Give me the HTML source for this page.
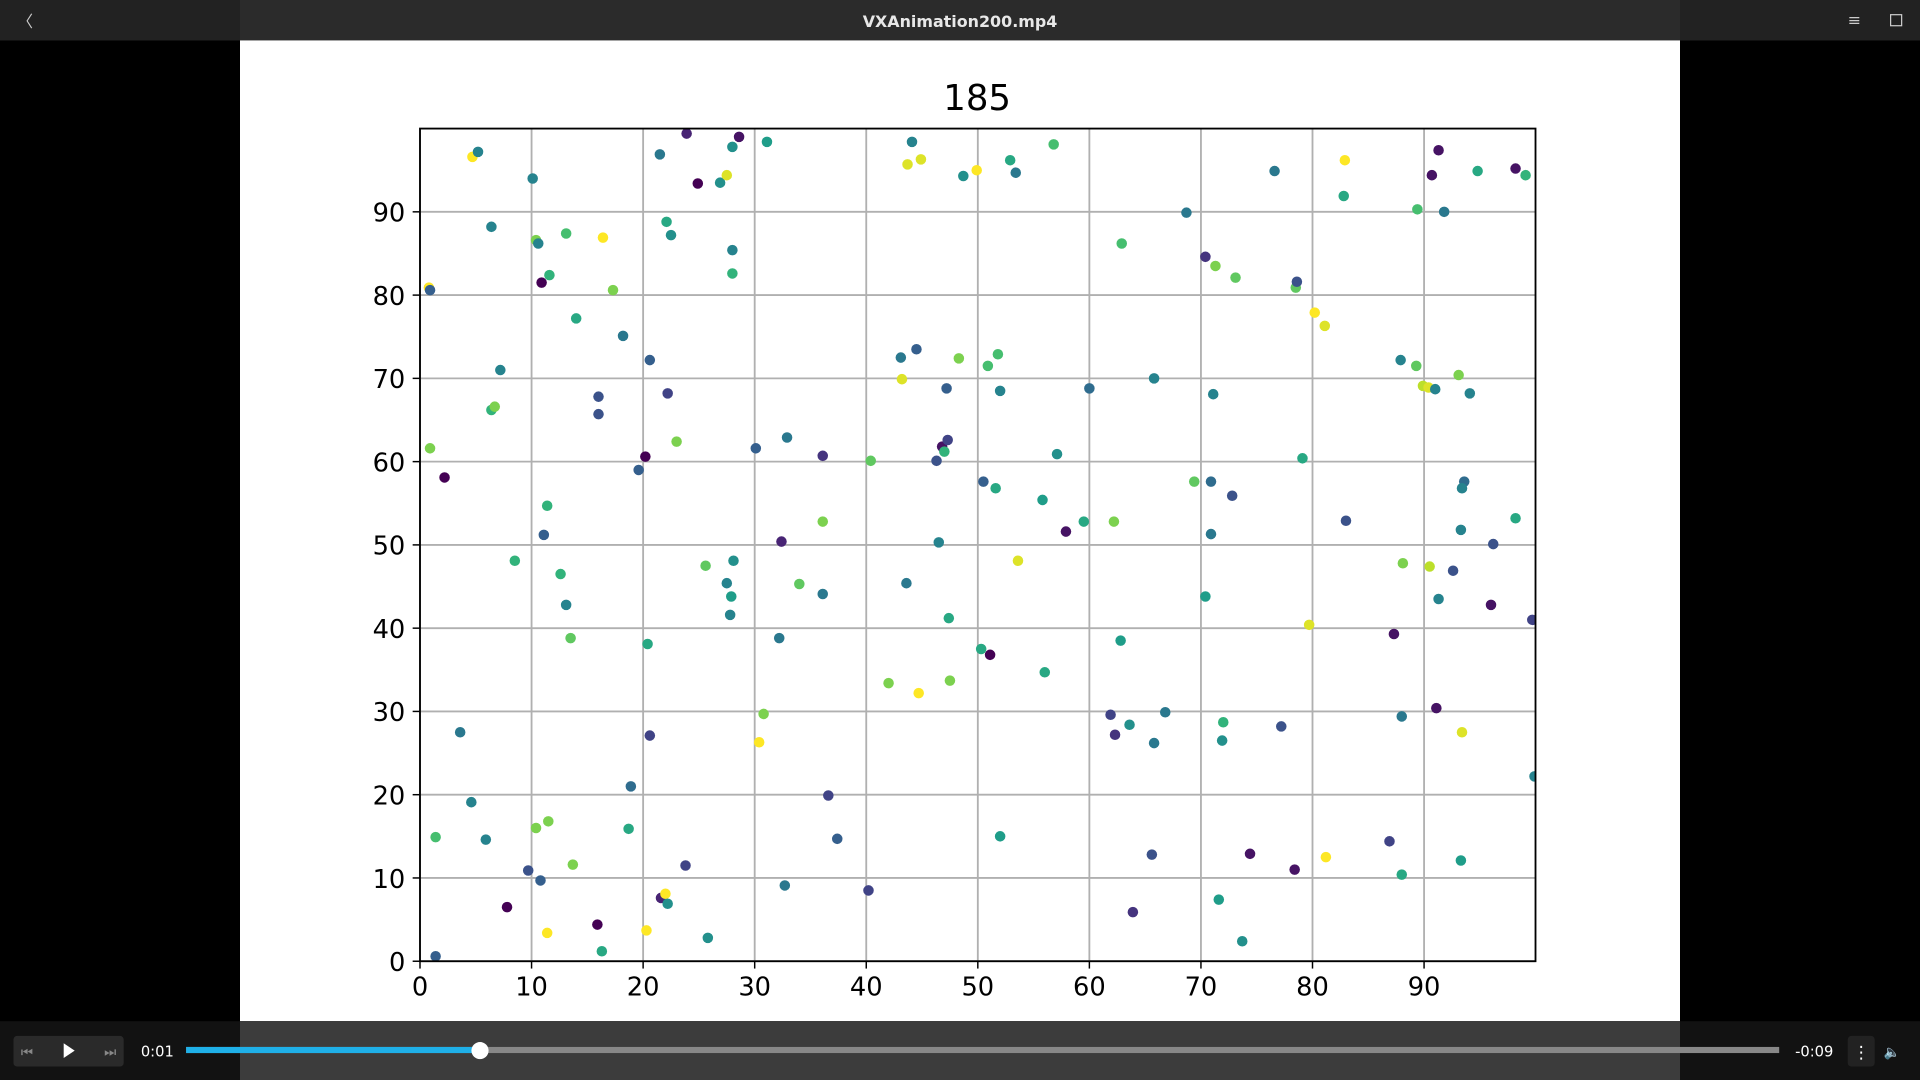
<!DOCTYPE html>
<html><head><meta charset="utf-8"><style>
html,body{margin:0;padding:0;background:#000;overflow:hidden}
svg{display:block}
text{font-family:"DejaVu Sans","Liberation Sans",sans-serif}
</style></head><body>
<svg id="svg" width="1920" height="1080" viewBox="0 0 1568 882" xmlns="http://www.w3.org/2000/svg">
<rect x="0" y="0" width="1568" height="882" fill="#000"/>
<g>
<rect x="0" y="0" width="1568" height="33" fill="#2b2b2b"/>
<rect x="0" y="0" width="196" height="33" fill="#222"/>
<rect x="1372" y="0" width="196" height="33" fill="#222"/>
<text x="14" y="22" fill="#ccc" font-size="13">〈</text>
<text x="784" y="22" fill="#e8e8e8" font-size="13" font-weight="bold" text-anchor="middle">VXAnimation200.mp4</text>
<text x="1509" y="21" fill="#ccc" font-size="13">≡</text>
<rect x="1544" y="12" width="9" height="9" fill="none" stroke="#ccc" stroke-width="1"/>
</g>
<rect x="196" y="33" width="1176" height="801" fill="#fff"/>
<text x="798" y="90" font-size="29" text-anchor="middle" fill="#000">185</text>
<defs><clipPath id="clip"><rect x="343" y="105" width="911" height="680"/></clipPath></defs>
<g id="grid"></g>
<g id="points" clip-path="url(#clip)"></g>
<rect x="343" y="105" width="911" height="680" fill="none" stroke="#000" stroke-width="1.5"/>
<g id="xticks"></g>
<g id="yticks"></g>
<g>
<rect x="0" y="834" width="1568" height="48" fill="#121212"/>
<rect x="196" y="834" width="1176" height="48" fill="#3c3c3c"/>
<rect x="11" y="846" width="90" height="25" rx="3" fill="#2a2a2a"/>
<text x="22" y="863" fill="#888" font-size="11" text-anchor="middle">⏮</text>
<polygon points="52,852 52,864 61,858" fill="#fff"/>
<text x="90" y="863" fill="#888" font-size="11" text-anchor="middle">⏭</text>
<text x="115" y="863" fill="#fff" font-size="12">0:01</text>
<rect x="152" y="855" width="1301" height="5" fill="#888"/>
<rect x="152" y="855" width="240" height="5" fill="#1fb0e8"/>
<circle cx="392" cy="858" r="7" fill="#fff"/>
<text x="1466" y="863" fill="#fff" font-size="12">-0:09</text>
<rect x="1509" y="846" width="22" height="25" rx="3" fill="#222"/>
<text x="1520" y="864" fill="#fff" font-size="14" text-anchor="middle">⋮</text>
<text x="1545" y="863" fill="#aaa" font-size="11" text-anchor="middle">🔈</text>
</g>
</svg>
<script>
const xs=[0.8,0.9,0.9,2.2,1.4,1.4,3.6,4.6,5.9,4.7,5.2,6.4,7.2,6.4,6.7,7.8,8.5,9.7,10.8,10.1,10.4,10.6,10.9,11.6,11.1,11.4,12.6,13.1,13.5,13.1,14.0,10.4,11.5,11.4,13.7,15.9,16.3,16.0,16.0,16.4,17.3,18.2,18.7,18.9,19.6,20.2,20.6,20.4,20.6,20.3,21.5,22.1,22.5,22.2,23.0,21.6,22.0,22.2,23.8,23.9,24.9,25.8,25.6,26.9,27.5,28.0,28.6,28.0,28.0,27.5,27.9,28.1,27.8,31.1,30.1,32.9,32.4,34.0,32.2,30.8,30.4,32.7,36.1,36.1,36.1,36.6,37.4,40.2,40.4,42.0,43.2,43.1,44.5,43.6,44.7,43.7,44.9,44.1,48.7,49.9,47.2,48.3,46.3,46.8,47.3,47.0,46.5,47.4,47.5,50.5,50.9,51.8,52.0,51.6,50.3,51.1,53.6,52.9,53.4,56.8,55.8,57.1,57.9,56.0,52.0,59.5,60.0,62.2,62.9,65.8,62.8,61.9,62.3,63.6,65.8,66.8,65.6,63.9,68.7,70.4,71.3,73.1,71.1,69.4,70.9,72.8,70.9,70.4,72.0,71.9,71.6,73.7,74.4,76.6,78.5,78.6,80.2,81.1,79.1,79.7,77.2,78.4,81.2,82.9,82.8,83.0,87.9,89.4,90.7,91.3,91.8,89.3,89.9,90.4,91.0,93.1,94.1,94.8,98.2,99.1,93.6,93.4,88.1,90.5,92.6,93.3,91.3,96.2,98.2,96.0,99.7,87.3,91.1,93.4,88.0,99.9,86.9,88.0,93.3];
const ys=[80.9,80.6,61.6,58.1,14.9,0.6,27.5,19.1,14.6,96.6,97.2,88.2,71.0,66.2,66.6,6.5,48.1,10.9,9.7,94.0,86.6,86.2,81.5,82.4,51.2,54.7,46.5,42.8,38.8,87.4,77.2,16.0,16.8,3.4,11.6,4.4,1.2,67.8,65.7,86.9,80.6,75.1,15.9,21.0,59.0,60.6,72.2,38.1,27.1,3.7,96.9,88.8,87.2,68.2,62.4,7.6,8.1,6.9,11.5,99.4,93.4,2.8,47.5,93.5,94.4,97.8,99.0,85.4,82.6,45.4,43.8,48.1,41.6,98.4,61.6,62.9,50.4,45.3,38.8,29.7,26.3,9.1,60.7,52.8,44.1,19.9,14.7,8.5,60.1,33.4,69.9,72.5,73.5,45.4,32.2,95.7,96.3,98.4,94.3,95.0,68.8,72.4,60.1,61.8,62.6,61.2,50.3,41.2,33.7,57.6,71.5,72.9,68.5,56.8,37.5,36.8,48.1,96.2,94.7,98.1,55.4,60.9,51.6,34.7,15.0,52.8,68.8,52.8,86.2,70.0,38.5,29.6,27.2,28.4,26.2,29.9,12.8,5.9,89.9,84.6,83.5,82.1,68.1,57.6,57.6,55.9,51.3,43.8,28.7,26.5,7.4,2.4,12.9,94.9,80.9,81.6,77.9,76.3,60.4,40.4,28.2,11.0,12.5,96.2,91.9,52.9,72.2,90.3,94.4,97.4,90.0,71.5,69.1,68.9,68.7,70.4,68.2,94.9,95.2,94.4,57.6,56.8,47.8,47.4,46.9,51.8,43.5,50.1,53.2,42.8,41.0,39.3,30.4,27.5,29.4,22.2,14.4,10.4,12.1];
const cs=[1,0.3,0.8,0,0.7,0.3,0.4,0.45,0.45,1,0.45,0.45,0.45,0.65,0.8,0,0.65,0.25,0.3,0.45,0.8,0.45,0,0.65,0.3,0.65,0.65,0.45,0.75,0.7,0.6,0.8,0.8,1,0.8,0,0.6,0.25,0.25,1,0.8,0.4,0.6,0.35,0.3,0,0.3,0.6,0.2,1,0.4,0.6,0.5,0.2,0.8,0.1,1,0.5,0.2,0.1,0,0.5,0.75,0.5,0.95,0.5,0.05,0.45,0.65,0.45,0.55,0.5,0.45,0.55,0.3,0.4,0.1,0.75,0.4,0.8,1,0.4,0.15,0.8,0.4,0.2,0.3,0.2,0.75,0.8,0.95,0.4,0.3,0.4,1,0.95,0.95,0.45,0.5,1,0.3,0.8,0.25,0.05,0.2,0.65,0.45,0.6,0.8,0.3,0.7,0.7,0.45,0.6,0.6,0,0.95,0.6,0.4,0.7,0.55,0.5,0.05,0.6,0.55,0.6,0.35,0.8,0.7,0.45,0.55,0.2,0.15,0.5,0.4,0.4,0.25,0.15,0.4,0.15,0.8,0.75,0.45,0.75,0.35,0.25,0.4,0.55,0.65,0.5,0.55,0.5,0.05,0.4,0.75,0.25,1,0.95,0.6,0.95,0.25,0.05,1,1,0.6,0.25,0.45,0.7,0.05,0.05,0.4,0.75,0.9,0.95,0.45,0.8,0.45,0.6,0.05,0.65,0.35,0.45,0.8,0.9,0.25,0.45,0.45,0.25,0.6,0.05,0.2,0.05,0.05,0.95,0.4,0.45,0.2,0.6,0.55];
const xTicks=[0,10,20,30,40,50,60,70,80,90];
const yTicks=[0,10,20,30,40,50,60,70,80,90];
const NS='http://www.w3.org/2000/svg';
const sx=v=>343+v*9.111, sy=v=>785-v*6.8;
const stops=[[68,1,84],[72,40,120],[62,74,137],[49,104,142],[38,130,142],[31,158,137],[53,183,121],[110,206,88],[181,222,43],[253,231,37]];
function vir(t){t=Math.max(0,Math.min(1,t))*(stops.length-1);const i=Math.min(Math.floor(t),stops.length-2),f=t-i;const a=stops[i],b=stops[i+1];return 'rgb('+a.map((v,k)=>Math.round(v+(b[k]-v)*f)).join(',')+')';}
function mk(tag,attrs,parent){const e=document.createElementNS(NS,tag);for(const k in attrs)e.setAttribute(k,attrs[k]);parent.appendChild(e);return e;}
const grid=document.getElementById('grid'),xg=document.getElementById('xticks'),yg=document.getElementById('yticks'),pg=document.getElementById('points');
xTicks.forEach(t=>{
 const l=mk('line',{x1:sx(t),x2:sx(t),y1:105,y2:785,stroke:'#b0b0b0','stroke-width':1.5},grid);
 
 
 const tk=mk('line',{x1:sx(t),x2:sx(t),y1:785,y2:791,stroke:'#000','stroke-width':1.2},xg);
 
 
 const tx=mk('text',{x:sx(t),y:813,'font-size':21,'text-anchor':'middle',fill:'#000'},xg);
 tx.textContent=t;
 
 
});
yTicks.forEach(t=>{
 const l=mk('line',{x1:343,x2:1254,y1:sy(t),y2:sy(t),stroke:'#b0b0b0','stroke-width':1.5},grid);
 
 
 const tk=mk('line',{x1:337,x2:343,y1:sy(t),y2:sy(t),stroke:'#000','stroke-width':1.2},yg);
 
 
 const tx=mk('text',{x:331,y:sy(t)+8,'font-size':21,'text-anchor':'end',fill:'#000'},yg);
 tx.textContent=t;
 
 
});
xs.forEach((x,i)=>{
 const c=mk('circle',{cx:sx(x),cy:sy(ys[i]),r:4.3,fill:vir(cs[i])},pg);
 
 
});
</script>
</body></html>
